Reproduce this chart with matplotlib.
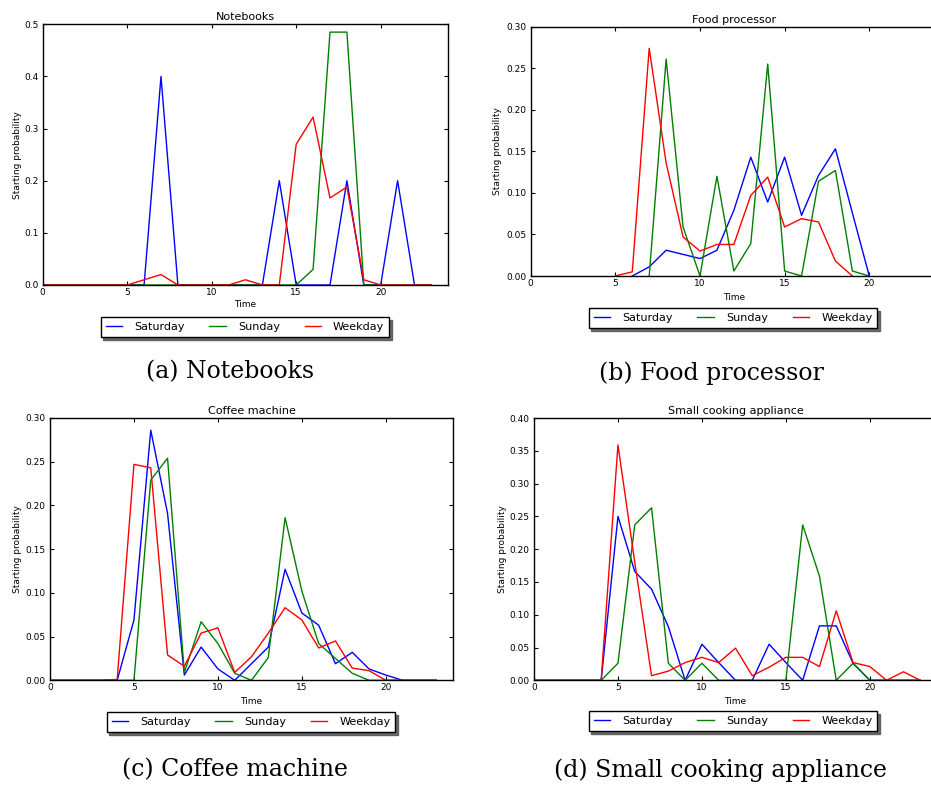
import matplotlib
matplotlib.use('Agg')
import matplotlib.pyplot as plt
import numpy as np
from matplotlib.ticker import FormatStrFormatter, MultipleLocator

nan = np.nan
hours = np.arange(24)

series_names = ['Saturday', 'Sunday', 'Weekday']

notebooks_sat = [0, 0, 0, 0, 0, 0, 0, 0.4, 0, 0, 0, 0, 0, 0, 0.2, 0, 0, 0, 0.2, 0, 0, 0.2, 0, 0]
notebooks_sun = [0, 0, 0, 0, 0, 0, 0, 0, 0, 0, 0, 0, 0, 0, 0, 0, 0.03, 0.485, 0.485, 0, 0, 0, 0, 0]
notebooks_wkd = [0, 0, 0, 0, 0, 0, 0.01, 0.02, 0, 0, 0, 0, 0.01, 0, 0, 0.27, 0.322, 0.167, 0.188, 0.01, 0, 0, 0, 0]

food_sat = [nan, nan, nan, nan, nan, nan, 0, 0.011, 0.031, 0.026, 0.021, 0.031, 0.079, 0.143,
            0.089, 0.143, 0.073, 0.121, 0.153, 0.076, 0, nan, nan, nan]
food_sun = [nan, nan, nan, nan, nan, nan, nan, 0, 0.261, 0.059, 0, 0.120, 0.006, 0.039,
            0.255, 0.006, 0, 0.114, 0.127, 0.006, 0, nan, nan, nan]
food_wkd = [nan, nan, nan, nan, nan, 0, 0.005, 0.274, 0.136, 0.047, 0.030, 0.038, 0.038, 0.097,
            0.119, 0.059, 0.069, 0.065, 0.018, 0, nan, nan, nan, nan]

coffee_sat = [0, 0, 0, 0, 0, 0.069, 0.286, 0.191, 0.006, 0.038, 0.013, 0, 0.019, 0.038,
              0.127, 0.077, 0.063, 0.019, 0.032, 0.013, 0.006, 0, 0, 0]
coffee_sun = [0, 0, 0, 0, 0, 0, 0.229, 0.254, 0.009, 0.067, 0.042, 0.008, 0, 0.026,
              0.186, 0.102, 0.042, 0.025, 0.008, 0, 0, 0, 0, 0]
coffee_wkd = [0, 0, 0, 0, 0.001, 0.247, 0.243, 0.029, 0.016, 0.054, 0.060, 0.009, 0.027, 0.054,
              0.083, 0.069, 0.037, 0.045, 0.014, 0.011, 0, 0, 0, 0]

cooking_sat = [0, 0, 0, 0, 0, 0.25, 0.166, 0.139, 0.082, 0, 0.055, 0.027, 0, 0,
               0.055, 0.027, 0, 0.083, 0.083, 0.026, 0, 0, 0, 0]
cooking_sun = [0, 0, 0, 0, 0, 0.026, 0.237, 0.263, 0.026, 0, 0.026, 0, 0, 0,
               0, 0, 0.237, 0.159, 0, 0.026, 0, 0, 0, 0]
cooking_wkd = [0, 0, 0, 0, 0, 0.359, 0.18, 0.007, 0.014, 0.027, 0.035, 0.027, 0.049, 0.007,
               0.02, 0.035, 0.035, 0.021, 0.106, 0.027, 0.021, 0, 0.013, 0]

W, H = 931, 787
fig = plt.figure(figsize=(W / 100, H / 100), dpi=100)


def px_axes(left, top, right, bottom):
    return fig.add_axes([left / W, 1 - bottom / H, (right - left) / W, (bottom - top) / H])


panels = [
    # title, caption, data, ymax, ystep, fmt, axes box, legend centre, caption centre, ylabel x, xlabel y
    ('Notebooks', '(a) Notebooks', (notebooks_sat, notebooks_sun, notebooks_wkd), 0.5, 0.1, '%.1f',
     (42.7, 24.3, 448.3, 285), (245, 327), (230, 372), -0.052, -0.058),
    ('Food processor', '(b) Food processor', (food_sat, food_sun, food_wkd), 0.30, 0.05, '%.2f',
     (530.7, 26.7, 937, 276), (733, 318), (711, 373), -0.07, -0.068),
    ('Coffee machine', '(c) Coffee machine', (coffee_sat, coffee_sun, coffee_wkd), 0.30, 0.05, '%.2f',
     (50, 418, 453, 680.3), (251, 722), (235, 770), -0.069, -0.064),
    ('Small cooking appliance', '(d) Small cooking appliance', (cooking_sat, cooking_sun, cooking_wkd),
     0.40, 0.05, '%.2f', (534, 418, 937, 680.3), (733, 721), (720, 770), -0.067, -0.064),
]

colors = ['b', 'g', 'r']

for title, caption, data, ymax, ystep, fmt, box, leg_c, cap_c, ylab_x, xlab_y in panels:
    ax = px_axes(*box)
    for vals, name, c in zip(data, series_names, colors):
        ax.plot(hours, vals, color=c, lw=1.0, label=name)
    ax.set_xlim(0, 24)
    ax.set_ylim(0, ymax)
    ax.xaxis.set_major_locator(MultipleLocator(5))
    ax.yaxis.set_major_locator(MultipleLocator(ystep))
    ax.yaxis.set_major_formatter(FormatStrFormatter(fmt))
    ax.tick_params(direction='in', length=3, width=0.8, labelsize=6.5,
                   top=True, right=True)
    ax.tick_params(axis='x', pad=2)
    ax.tick_params(axis='y', pad=3)
    for sp in ax.spines.values():
        sp.set_linewidth(1.0)
    ax.set_title(title, fontsize=8, pad=3)
    ax.set_ylabel('Starting probability', fontsize=6.5)
    ax.set_xlabel('Time', fontsize=6.5)
    ax.yaxis.set_label_coords(ylab_x, 0.5)
    ax.xaxis.set_label_coords(0.5, xlab_y)

    fig.legend(*ax.get_legend_handles_labels(), loc='center',
               bbox_to_anchor=(leg_c[0] / W, 1 - leg_c[1] / H), ncol=3, fontsize=8,
               fancybox=False, shadow={'color': '0.35', 'alpha': 0.9}, framealpha=1,
               edgecolor='black', handlelength=1.5, handletextpad=1.05,
               columnspacing=2.25, borderpad=0.45)

    fig.text(cap_c[0] / W, 1 - cap_c[1] / H, caption, family='DejaVu Serif',
             fontsize=17, ha='center', va='center')

fig.savefig('out.png', dpi=100)
